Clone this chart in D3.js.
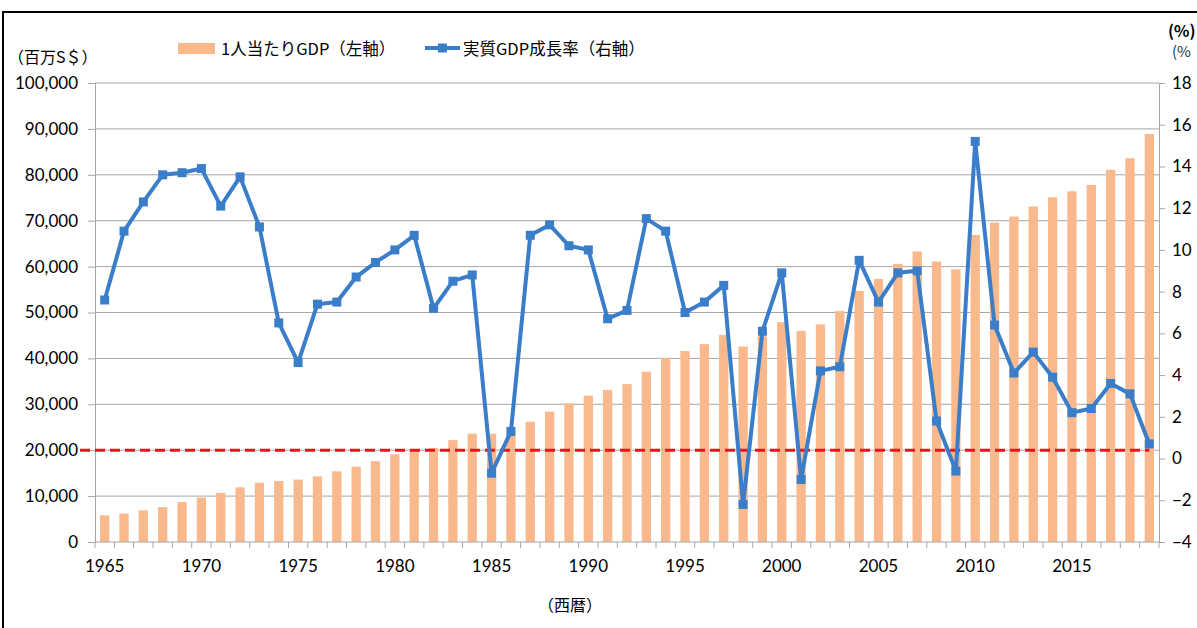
<!DOCTYPE html>
<html>
<head>
<meta charset="utf-8">
<script src="https://cdn.jsdelivr.net/npm/d3@7"></script>
<style>
  body { margin: 0; background: #fff; }
  svg { display: block; }
  text { font-family: Lato, "Noto Sans CJK JP", sans-serif; }
  .jp { font-family: "Noto Sans CJK JP", sans-serif; }
</style>
</head>
<body>
<svg id="chart"></svg>
<script>
// years on the category axis
const years = d3.range(1965, 2020);
const yearLabels = [1965, 1970, 1975, 1980, 1985, 1990, 1995, 2000, 2005, 2010, 2015];

// per-capita GDP (left axis)
const gdpPerCapita = [
  5800, 6200, 6900, 7600, 8700, 9700, 10700, 11900, 12900, 13300,
  13600, 14300, 15400, 16400, 17600, 19100, 20200, 20500, 22200, 23600,
  23600, 23100, 26200, 28400, 30200, 31900, 33100, 34400, 37100, 40100,
  41600, 43100, 45100, 42600, 44800, 47900, 46000, 47400, 50300, 54700,
  57300, 60600, 63300, 61100, 59400, 66900, 69600, 70900, 73100, 75100,
  76400, 77800, 81100, 83600, 88900
];

// real GDP growth rate, % (right axis)
const growthRate = [
  7.6, 10.9, 12.3, 13.6, 13.7, 13.9, 12.1, 13.5, 11.1, 6.5,
  4.6, 7.4, 7.5, 8.7, 9.4, 10.0, 10.7, 7.2, 8.5, 8.8,
  -0.7, 1.3, 10.7, 11.2, 10.2, 10.0, 6.7, 7.1, 11.5, 10.9,
  7.0, 7.5, 8.3, -2.2, 6.1, 8.9, -1.0, 4.2, 4.4, 9.5,
  7.5, 8.9, 9.0, 1.8, -0.6, 15.2, 6.4, 4.1, 5.1, 3.9,
  2.2, 2.4, 3.6, 3.1, 0.7
];

const leftTicks = d3.range(0, 100001, 10000);
const rightTicks = d3.range(-4, 19, 2);
const thresholdValue = 20000;

const width = 1197, height = 628;
const plot = { left: 95, right: 1159, top: 83, bottom: 542 };

const svg = d3.select('#chart').attr('width', width).attr('height', height);

// scales
const x = d3.scaleBand().domain(years).range([plot.left, plot.right]).padding(0);
const yL = d3.scaleLinear().domain([0, 100000]).range([plot.bottom, plot.top]);
const yR = d3.scaleLinear().domain([-4, 18]).range([plot.bottom, plot.top]);
const bw = x.bandwidth();
const cx = (d) => x(d) + bw / 2;

// outer frame (cut off by the picture edge)
svg.append('rect')
  .attr('x', 3).attr('y', 12).attr('width', 1400).attr('height', 800)
  .attr('fill', 'none').attr('stroke', '#000').attr('stroke-width', 2);

// horizontal gridlines
svg.append('g')
  .selectAll('line')
  .data(leftTicks.filter((d) => d > 0))
  .join('line')
  .attr('x1', plot.left).attr('x2', plot.right)
  .attr('y1', (d) => yL(d)).attr('y2', (d) => yL(d))
  .attr('stroke', '#a6a6a6').attr('stroke-width', 1);

// bars
svg.append('g')
  .selectAll('rect')
  .data(years)
  .join('rect')
  .attr('x', (d) => x(d) + bw * 0.26)
  .attr('width', bw * 0.48)
  .attr('y', (d, i) => yL(gdpPerCapita[i]))
  .attr('height', (d, i) => plot.bottom - yL(gdpPerCapita[i]))
  .attr('fill', '#f9b98c');

// left axis
const axL = svg.append('g')
  .attr('transform', `translate(${plot.left},0)`)
  .call(d3.axisLeft(yL).tickValues(leftTicks).tickSize(7).tickPadding(10).tickFormat(d3.format(',')));
axL.select('.domain').attr('stroke', '#a6a6a6');
axL.selectAll('.tick line').attr('stroke', '#a6a6a6');
axL.selectAll('text').attr('font-size', 17).attr('fill', '#000');

// right axis
const axR = svg.append('g')
  .attr('transform', `translate(${plot.right},0)`)
  .call(d3.axisRight(yR).tickValues(rightTicks).tickSize(6).tickPadding(7));
axR.select('.domain').attr('stroke', '#a6a6a6');
axR.selectAll('.tick line').attr('stroke', '#a6a6a6');
axR.selectAll('text').attr('font-size', 17).attr('fill', '#000');

// bottom axis: line, ticks at category boundaries, labels every 5 years
const axB = svg.append('g');
axB.append('line')
  .attr('x1', plot.left).attr('x2', plot.right)
  .attr('y1', plot.bottom).attr('y2', plot.bottom)
  .attr('stroke', '#a6a6a6');
axB.selectAll('line.tk')
  .data(years.concat([years[years.length - 1] + 1]))
  .join('line')
  .attr('class', 'tk')
  .attr('x1', (d, i) => i < years.length ? x(d) : plot.right)
  .attr('x2', (d, i) => i < years.length ? x(d) : plot.right)
  .attr('y1', plot.bottom).attr('y2', plot.bottom + 6)
  .attr('stroke', '#a6a6a6');
axB.selectAll('text')
  .data(yearLabels)
  .join('text')
  .attr('x', (d) => cx(d))
  .attr('y', 572)
  .attr('text-anchor', 'middle')
  .attr('font-size', 17)
  .text((d) => d);

// red dashed threshold line
svg.append('line')
  .attr('x1', 80).attr('x2', cx(years[years.length - 1]))
  .attr('y1', yL(thresholdValue)).attr('y2', yL(thresholdValue))
  .attr('stroke', '#e8141b').attr('stroke-width', 3)
  .attr('stroke-dasharray', '10,5');

// growth line + square markers
const line = d3.line()
  .x((d, i) => cx(years[i]))
  .y((d) => yR(d));
svg.append('path')
  .datum(growthRate)
  .attr('d', line)
  .attr('fill', 'none')
  .attr('stroke', '#3a7dc9')
  .attr('stroke-width', 4)
  .attr('stroke-linejoin', 'round');
const ms = 9;
svg.append('g')
  .selectAll('rect')
  .data(growthRate)
  .join('rect')
  .attr('x', (d, i) => cx(years[i]) - ms / 2)
  .attr('y', (d) => yR(d) - ms / 2)
  .attr('width', ms).attr('height', ms)
  .attr('fill', '#3a7dc9');

// axis titles
svg.append('text').attr('class', 'jp')
  .attr('x', 8).attr('y', 63).attr('font-size', 16).text('（百万S＄）');
svg.append('text').attr('class', 'jp')
  .attr('x', 1168).attr('y', 37).attr('font-size', 16).attr('font-weight', 'bold').text('(%)');
svg.append('text').attr('class', 'jp')
  .attr('x', 1172).attr('y', 57).attr('font-size', 15).attr('fill', '#333').text('(%');
svg.append('text').attr('class', 'jp')
  .attr('x', 570).attr('y', 611).attr('text-anchor', 'middle').attr('font-size', 16).text('（西暦）');

// legend
const lg = svg.append('g');
lg.append('rect').attr('x', 178).attr('y', 43).attr('width', 37).attr('height', 11).attr('fill', '#f9b98c');
lg.append('text').attr('class', 'jp').attr('x', 221).attr('y', 55).attr('font-size', 16.5).text('1人当たりGDP（左軸）');
lg.append('line').attr('x1', 425).attr('x2', 460).attr('y1', 48).attr('y2', 48)
  .attr('stroke', '#3a7dc9').attr('stroke-width', 4);
lg.append('rect').attr('x', 438).attr('y', 43.5).attr('width', ms).attr('height', ms).attr('fill', '#3a7dc9');
lg.append('text').attr('class', 'jp').attr('x', 463).attr('y', 55).attr('font-size', 16.5).text('実質GDP成長率（右軸）');
</script>
</body>
</html>
